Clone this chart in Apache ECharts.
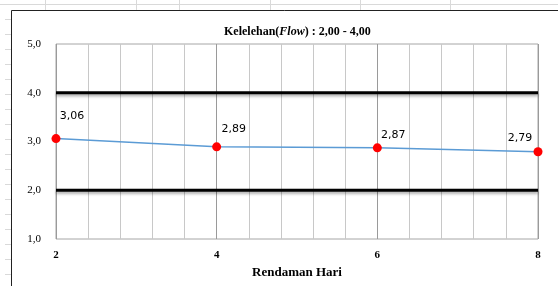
<!DOCTYPE html>
<html><head><meta charset="utf-8">
<script src="https://cdn.jsdelivr.net/npm/echarts@6/dist/echarts.min.js"></script>
<style>html,body{margin:0;padding:0;background:#fff}#c{width:558px;height:286px}</style>
</head><body><div id="c"></div>
<script>
var days = [2, 4, 6, 8];
var flowValues = [3.06, 2.89, 2.87, 2.79];
var upperLimit = 4.0;
var lowerLimit = 2.0;
var yTicks = [1, 2, 3, 4, 5];
var xTicks = [2, 4, 6, 8];

var labelOffsets = [[16, -4], [17, 0], [16, 5], [-18, 4]];

var chart = echarts.init(document.getElementById('c'), null, {renderer: 'canvas'});

var bg = [];
bg.push({type: 'line', shape: {x1: 0, y1: 4.5, x2: 558, y2: 4.5}, style: {stroke: '#d9d9d9', lineWidth: 1}, silent: true, z: -10});
[45, 136, 179, 270, 360, 450].forEach(function (x) {
  bg.push({type: 'line', shape: {x1: x + 0.5, y1: 0, x2: x + 0.5, y2: 10}, style: {stroke: '#d9d9d9', lineWidth: 1}, silent: true, z: -10});
});
for (var yy = 19; yy < 286; yy += 15) {
  bg.push({type: 'line', shape: {x1: 5, y1: yy + 0.5, x2: 11, y2: yy + 0.5}, style: {stroke: '#d9d9d9', lineWidth: 1}, silent: true, z: -10});
}
bg.push({type: 'polyline', shape: {points: [[11.5, 286], [11.5, 10.5], [558, 10.5]]}, style: {stroke: '#222', fill: null, lineWidth: 1}, silent: true, z: -5});

var seriesData = flowValues.map(function (v, i) {
  return {value: [days[i], v], label: {offset: labelOffsets[i]}};
});

chart.setOption({
  animation: false,
  backgroundColor: '#fff',
  graphic: bg,
  title: {
    text: '{b|Kelelehan(}{i|Flow}{b|) : 2,00 - 4,00}',
    left: 219, top: 21,
    textStyle: {
      rich: {
        b: {fontFamily: 'Liberation Serif', fontWeight: 'bold', fontSize: 12, color: '#000'},
        i: {fontFamily: 'Liberation Serif', fontStyle: 'italic', fontSize: 12, color: '#000'}
      }
    }
  },
  grid: {left: 56, right: 20, top: 44, bottom: 47, show: true, borderColor: '#a6a6a6', borderWidth: 1, backgroundColor: 'transparent'},
  xAxis: {
    type: 'value', min: xTicks[0], max: xTicks[xTicks.length - 1], interval: 2,
    name: 'Rendaman Hari', nameLocation: 'middle', nameGap: 27,
    nameTextStyle: {fontFamily: 'Liberation Serif', fontWeight: 'bold', fontSize: 13, color: '#000'},
    axisLine: {show: false}, axisTick: {show: false},
    axisLabel: {fontFamily: 'Liberation Serif', fontWeight: 'bold', fontSize: 11, color: '#000', margin: 11},
    splitLine: {show: true, lineStyle: {color: '#9a9a9a', width: 1}},
    minorTick: {show: false, splitNumber: 5},
    minorSplitLine: {show: true, lineStyle: {color: '#c8c8c8', width: 1}}
  },
  yAxis: {
    type: 'value', min: yTicks[0], max: yTicks[yTicks.length - 1], interval: 1,
    axisLine: {show: false}, axisTick: {show: false},
    splitLine: {show: false},
    axisLabel: {fontFamily: 'Liberation Serif', fontSize: 11, color: '#000', margin: 15,
      formatter: function (v) { return v.toFixed(1).replace('.', ','); }}
  },
  series: [
    {
      type: 'line', data: [[days[0], upperLimit], [days[days.length - 1], upperLimit]],
      symbol: 'none', silent: true,
      lineStyle: {color: '#000', width: 2.8, shadowColor: 'rgba(0,0,0,0.35)', shadowBlur: 3, shadowOffsetY: 2}
    },
    {
      type: 'line', data: [[days[0], lowerLimit], [days[days.length - 1], lowerLimit]],
      symbol: 'none', silent: true,
      lineStyle: {color: '#000', width: 2.8, shadowColor: 'rgba(0,0,0,0.35)', shadowBlur: 3, shadowOffsetY: 2}
    },
    {
      type: 'line', data: seriesData,
      symbol: 'circle', symbolSize: 9,
      itemStyle: {color: '#ff0000'},
      lineStyle: {color: '#5b9bd5', width: 1.5},
      z: 5,
      label: {show: true, position: 'top', distance: 8, fontFamily: 'DejaVu Sans', fontSize: 11, color: '#000',
        formatter: function (p) { return p.value[1].toFixed(2).replace('.', ','); }}
    }
  ]
});
</script></body></html>
